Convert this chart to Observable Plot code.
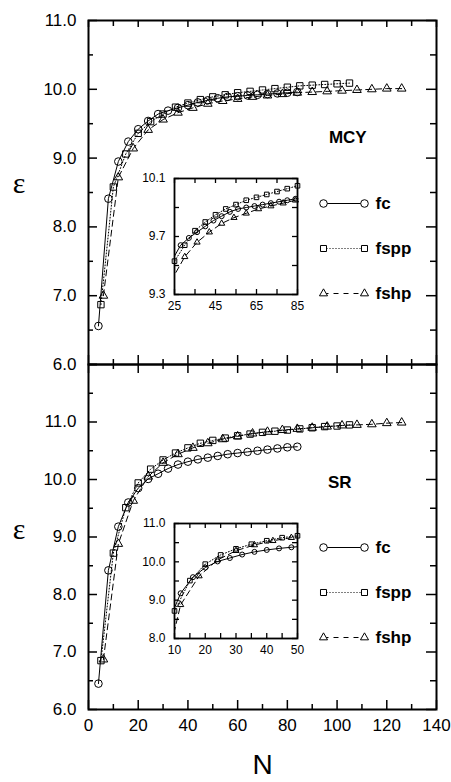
<!DOCTYPE html>
<html>
<head>
<meta charset="utf-8">
<script src="https://cdn.jsdelivr.net/npm/d3@7"></script>
<script src="https://cdn.jsdelivr.net/npm/@observablehq/plot@0.6"></script>
<style>
  html, body { margin: 0; padding: 0; background: #fff; }
  #chart { position: relative; width: 451px; height: 782px; overflow: hidden; background: #fff; }
</style>
</head>
<body>
<div id="chart"></div>
<script>
// ---------------- DATA ----------------
const seriesNames = ["fc", "fspp", "fshp"];

const N_fc   = [4, 8, 12, 16, 20, 24, 28, 32, 36, 40, 44, 48, 52, 56, 60, 64, 68, 72, 76, 80, 84];
const N_fspp = [5, 10, 15, 20, 25, 30, 35, 40, 45, 50, 55, 60, 65, 70, 75, 80, 85, 90, 95, 100, 105];
const N_fshp = [6, 12, 18, 24, 30, 36, 42, 48, 54, 60, 66, 72, 78, 84, 90, 96, 102, 108, 114, 120, 126];

// MCY panel (top)
const mcy_fc   = [6.56, 8.41, 8.95, 9.24, 9.42, 9.54, 9.64, 9.69, 9.73, 9.77, 9.81, 9.84, 9.87, 9.89, 9.90, 9.91, 9.92, 9.93, 9.94, 9.95, 9.96];
const mcy_fspp = [6.87, 8.58, 9.06, 9.36, 9.53, 9.64, 9.74, 9.80, 9.85, 9.89, 9.92, 9.95, 9.97, 9.99, 10.01, 10.03, 10.05, 10.06, 10.07, 10.08, 10.09];
const mcy_fshp = [7.00, 8.72, 9.14, 9.41, 9.56, 9.66, 9.73, 9.79, 9.83, 9.86, 9.89, 9.91, 9.93, 9.95, 9.96, 9.97, 9.98, 9.99, 10.00, 10.01, 10.01];

// SR panel (bottom)
const sr_fc   = [6.45, 8.42, 9.18, 9.60, 9.85, 10.01, 10.10, 10.19, 10.26, 10.31, 10.35, 10.38, 10.41, 10.44, 10.46, 10.48, 10.50, 10.52, 10.54, 10.56, 10.57];
const sr_fspp = [6.85, 8.72, 9.51, 9.94, 10.18, 10.34, 10.46, 10.55, 10.63, 10.68, 10.72, 10.76, 10.79, 10.82, 10.84, 10.86, 10.88, 10.90, 10.92, 10.93, 10.95];
const sr_fshp = [6.87, 8.88, 9.63, 10.05, 10.29, 10.44, 10.55, 10.63, 10.70, 10.75, 10.80, 10.83, 10.86, 10.88, 10.90, 10.92, 10.94, 10.95, 10.96, 10.98, 10.99];

// Tick values
const xMainMajor = [0, 20, 40, 60, 80, 100, 120, 140];
const xMainMinor = [10, 30, 50, 70, 90, 110, 130];
const yTopMajor  = [6, 7, 8, 9, 10, 11];
const yTopMinor  = [6.5, 7.5, 8.5, 9.5, 10.5];
const yTopLabels = [6, 7, 8, 9, 10, 11];
const yBotMajor  = [6, 7, 8, 9, 10, 11, 12];
const yBotMinor  = [6.5, 7.5, 8.5, 9.5, 10.5, 11.5];
const yBotLabels = [6, 7, 8, 9, 10, 11];

const xInsetTopMajor = [25, 45, 65, 85];
const xInsetTopMinor = [35, 55, 75];
const yInsetTopMajor = [9.3, 9.7, 10.1];
const yInsetTopMinor = [9.5, 9.9];

const xInsetBotMajor = [10, 20, 30, 40, 50];
const xInsetBotMinor = [15, 25, 35, 45];
const yInsetBotMajor = [8, 9, 10, 11];
const yInsetBotMinor = [8.5, 9.5, 10.5];

// ---------------- STYLE ----------------
const FONT = '"Liberation Sans", Arial, Helvetica, sans-serif';
const STYLE = {
  fc:   {symbol: "circle",   dash: undefined},
  fspp: {symbol: "square",   dash: "1,2"},
  fshp: {symbol: "triangle", dash: "6,4"}
};
const chart = document.getElementById("chart");

const rows = (Ns, vs) => Ns.map((N, i) => ({N, v: vs[i]}));
const mcy = {fc: rows(N_fc, mcy_fc), fspp: rows(N_fspp, mcy_fspp), fshp: rows(N_fshp, mcy_fshp)};
const sr  = {fc: rows(N_fc, sr_fc),  fspp: rows(N_fspp, sr_fspp),  fshp: rows(N_fshp, sr_fshp)};

function frameTicks(t, FW, FH, sw) {
  const out = [];
  const o = {stroke: "black", strokeWidth: sw};
  const add = (vals, axis, side, len) => {
    if (!vals || !vals.length || !len) return;
    if (axis === "y") {
      out.push(Plot.tickY(vals, {y: d => d, ...o, ...(side === "left" ? {insetRight: FW - len} : {insetLeft: FW - len})}));
    } else {
      out.push(Plot.tickX(vals, {x: d => d, ...o, ...(side === "bottom" ? {insetTop: FH - len} : {insetBottom: FH - len})}));
    }
  };
  for (const side of ["left", "right"]) { add(t.yMajor, "y", side, t.len[side][0]); add(t.yMinor, "y", side, t.len[side][1]); }
  for (const side of ["top", "bottom"]) { add(t.xMajor, "x", side, t.len[side][0]); add(t.xMinor, "x", side, t.len[side][1]); }
  return out;
}

function panel(cfg) {
  const {data, xDomain, yDomain, width, height, m, pos, r, clip} = cfg;
  const FW = width - m.left - m.right;
  const FH = height - m.top - m.bottom;
  const marks = [];
  if (cfg.whiteFrame) marks.push(Plot.frame({fill: "white", stroke: "none"}));
  for (const name of seriesNames) {
    marks.push(Plot.line(data[name], {x: "N", y: "v", stroke: "black", strokeWidth: 1, strokeDasharray: STYLE[name].dash, clip}));
  }
  for (const name of seriesNames) {
    const d = data[name].filter(p => p.N >= xDomain[0] && p.N <= xDomain[1] && p.v >= yDomain[0] && p.v <= yDomain[1]);
    marks.push(Plot.dot(d, {x: "N", y: "v", symbol: STYLE[name].symbol, r: r[name], stroke: "black", fill: "none", strokeWidth: 1}));
  }
  marks.push(...frameTicks(cfg.ticks, FW, FH, cfg.tickWidth));
  marks.push(Plot.frame({stroke: "black", strokeWidth: cfg.frameWidth}));
  marks.push(Plot.text(cfg.yLabels, {y: d => d, text: d => d3.format(".1f")(d), frameAnchor: "left", textAnchor: "end", lineAnchor: "middle", dx: -cfg.yPad, fontSize: cfg.fs}));
  if (cfg.xLabels) {
    marks.push(Plot.text(cfg.xLabels, {x: d => d, text: d => String(d), frameAnchor: "bottom", textAnchor: "middle", lineAnchor: "top", dy: cfg.xPad, fontSize: cfg.fs}));
  }
  if (cfg.extra) marks.push(...cfg.extra);
  const svg = Plot.plot({
    width, height,
    marginTop: m.top, marginBottom: m.bottom, marginLeft: m.left, marginRight: m.right,
    x: {domain: xDomain, axis: null},
    y: {domain: yDomain, axis: null},
    style: {background: "transparent", overflow: "visible", position: "absolute", left: pos.left + "px", top: pos.top + "px", fontFamily: FONT, maxWidth: "none"},
    marks
  });
  chart.append(svg);
}

function legend(pos, m) {
  const width = 140, height = 125;
  const marks = [];
  seriesNames.forEach(name => {
    marks.push(Plot.link([name], {x1: () => 0, x2: () => 1, y1: d => d, y2: d => d, stroke: "black", strokeWidth: 1, strokeDasharray: name === "fshp" ? "5,5" : STYLE[name].dash}));
  });
  seriesNames.forEach(name => {
    const rr = {fc: 3.8, fspp: 3.4, fshp: 3.0}[name];
    marks.push(Plot.dot([name, name], {x: (d, i) => i, y: d => d, symbol: STYLE[name].symbol, r: rr, stroke: "black", fill: "white", strokeWidth: 1}));
  });
  marks.push(Plot.text(seriesNames, {x: () => 1, y: d => d, text: d => d, textAnchor: "start", lineAnchor: "middle", dx: 11, fontSize: 17, fontWeight: "bold"}));
  const svg = Plot.plot({
    width, height,
    marginTop: m.top, marginBottom: m.bottom, marginLeft: 23, marginRight: 76,
    x: {domain: [0, 1], axis: null},
    y: {type: "point", domain: seriesNames, padding: 0, axis: null},
    style: {background: "transparent", overflow: "visible", position: "absolute", left: pos.left + "px", top: pos.top + "px", fontFamily: FONT, maxWidth: "none"},
    marks
  });
  chart.append(svg);
}

const mainR  = {fc: 3.8, fspp: 3.6, fshp: 3.2};
const insetR = {fc: 2.5, fspp: 2.6, fshp: 2.3};

// ---------------- TOP MAIN (MCY) ----------------
panel({
  data: mcy, xDomain: [0, 140], yDomain: [6, 11],
  width: 451, height: 372, m: {top: 20, bottom: 8, left: 88, right: 15}, pos: {left: 0, top: 0},
  r: mainR, clip: false, frameWidth: 2, tickWidth: 1.5,
  ticks: {xMajor: xMainMajor, xMinor: xMainMinor, yMajor: yTopMajor, yMinor: yTopMinor,
          len: {left: [9, 5], right: [10, 6], top: [7, 6], bottom: [9, 5]}},
  yLabels: yTopLabels, yPad: 12, fs: 17,
  extra: [
    Plot.text(["ε"], {text: d => d, frameAnchor: "left", textAnchor: "middle", lineAnchor: "middle", dx: -69.5, dy: -9.5, fontSize: 30, fontFamily: '"Liberation Serif", "Times New Roman", serif'}),
    Plot.text(["MCY"], {text: d => d, frameAnchor: "top-right", textAnchor: "middle", lineAnchor: "middle", dx: -88.7, dy: 117, fontSize: 17, fontWeight: "bold"})
  ]
});

// ---------------- BOTTOM MAIN (SR) ----------------
panel({
  data: sr, xDomain: [0, 140], yDomain: [6, 12],
  width: 451, height: 426, m: {top: 8, bottom: 73, left: 88, right: 15}, pos: {left: 0, top: 356},
  r: mainR, clip: false, frameWidth: 2, tickWidth: 1.5,
  ticks: {xMajor: xMainMajor, xMinor: xMainMinor, yMajor: yBotMajor, yMinor: yBotMinor,
          len: {left: [9, 5], right: [10, 6], top: [9, 5], bottom: [9, 5]}},
  yLabels: yBotLabels, yPad: 12, fs: 17,
  xLabels: xMainMajor, xPad: 9,
  extra: [
    Plot.text(["ε"], {text: d => d, frameAnchor: "left", textAnchor: "middle", lineAnchor: "middle", dx: -69.5, dy: -8, fontSize: 30, fontFamily: '"Liberation Serif", "Times New Roman", serif'}),
    Plot.text(["SR"], {text: d => d, frameAnchor: "top-right", textAnchor: "middle", lineAnchor: "middle", dx: -96.7, dy: 118, fontSize: 17, fontWeight: "bold"}),
    Plot.text(["N"], {text: d => d, frameAnchor: "bottom", textAnchor: "middle", lineAnchor: "middle", dy: 56, fontSize: 28})
  ]
});

// ---------------- TOP INSET ----------------
panel({
  data: mcy, xDomain: [25, 85], yDomain: [9.3, 10.1],
  width: 180, height: 150, m: {top: 13, bottom: 21, left: 44, right: 13}, pos: {left: 130, top: 165},
  r: insetR, clip: true, whiteFrame: true, frameWidth: 1.8, tickWidth: 1.3,
  ticks: {xMajor: xInsetTopMajor, xMinor: xInsetTopMinor, yMajor: yInsetTopMajor, yMinor: yInsetTopMinor,
          len: {left: [5, 5], right: [5, 5], top: [5, 5], bottom: [5, 5]}},
  yLabels: yInsetTopMajor, yPad: 9, fs: 12,
  xLabels: xInsetTopMajor, xPad: 7
});

// ---------------- BOTTOM INSET ----------------
panel({
  data: sr, xDomain: [10, 50], yDomain: [8, 11],
  width: 180, height: 150, m: {top: 13, bottom: 22, left: 44, right: 13}, pos: {left: 130, top: 510},
  r: insetR, clip: true, whiteFrame: true, frameWidth: 1.8, tickWidth: 1.3,
  ticks: {xMajor: xInsetBotMajor, xMinor: xInsetBotMinor, yMajor: yInsetBotMajor, yMinor: yInsetBotMinor,
          len: {left: [5, 5], right: [5, 5], top: [5, 5], bottom: [5, 5]}},
  yLabels: yInsetBotMajor, yPad: 9, fs: 12,
  xLabels: xInsetBotMajor, xPad: 7
});

// ---------------- LEGENDS ----------------
legend({left: 300, top: 185}, {top: 17, bottom: 17});
legend({left: 300, top: 530}, {top: 17, bottom: 18});
</script>
</body>
</html>
